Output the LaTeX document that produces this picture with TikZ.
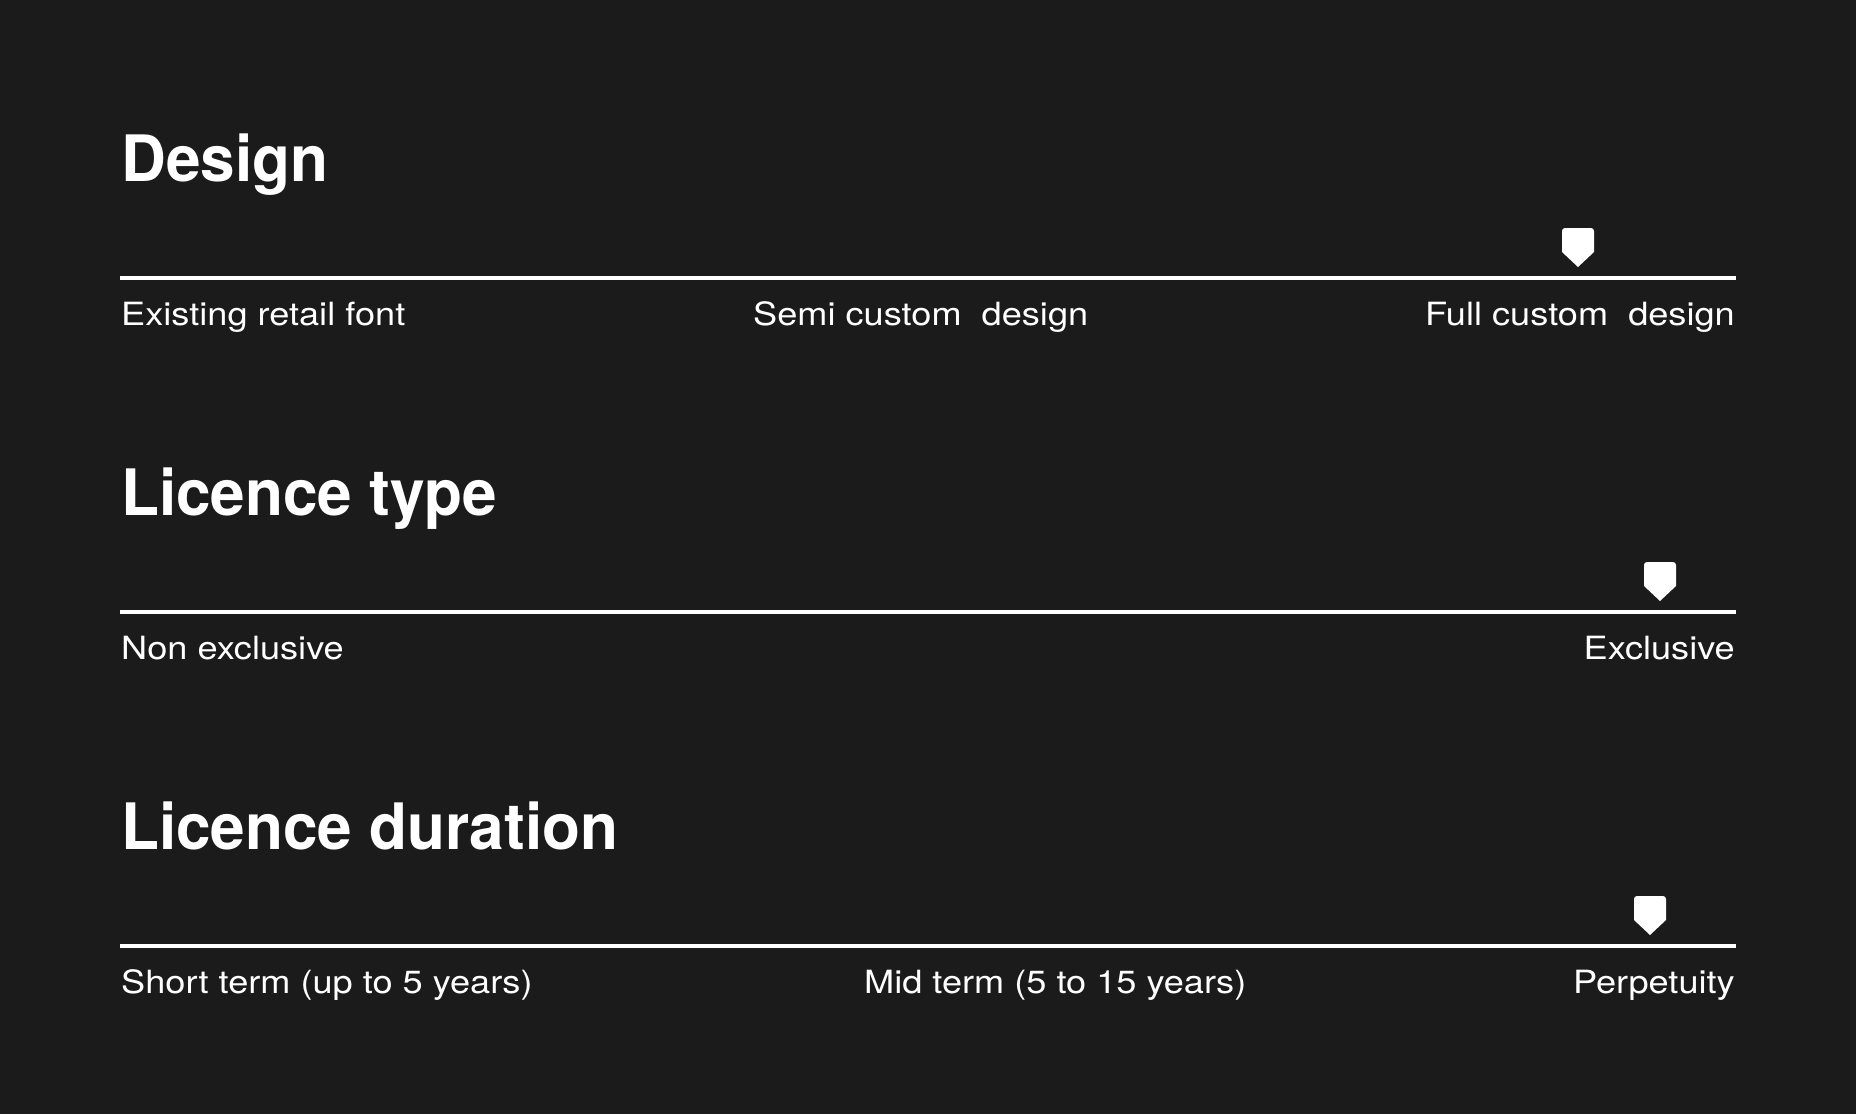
\documentclass[tikz,border=0pt]{standalone}
\usepackage{fontspec}
\setmainfont{TeX Gyre Heros}
\newfontfamily\labfont[FakeStretch=1.13]{TeX Gyre Heros}
\newfontfamily\titlefont[FakeStretch=0.97]{TeX Gyre Heros}
\definecolor{bg}{RGB}{27,27,27}
\tikzset{
  title/.style={anchor=base west, inner sep=0pt, text=white, font=\titlefont\fontsize{64}{70}\selectfont\bfseries},
  lab/.style={inner sep=0pt, text=white, font=\labfont\fontsize{32}{36}\selectfont},
  scale line/.style={draw=white, line width=4pt},
  marker/.style={fill=white}
}
\newcommand{\mymarker}[2]{%
  \fill[marker] (#1,#2-11) -- (#1-16,#2-26) [rounded corners=3pt] -- (#1-16,#2-50) -- (#1+16,#2-50) [sharp corners] -- (#1+16,#2-26) -- cycle;}
\begin{document}
\begin{tikzpicture}[x=1pt,y=-1pt]
\fill[bg] (0,0) rectangle (1856,1114);
\useasboundingbox (0,0) rectangle (1856,1114);
% Design
\node[title] (t1) at (121,181) {Design};
\coordinate (a1) at (120,278); \coordinate (b1) at (1736,278);
\draw[scale line] (a1) -- (b1);
\mymarker{1578}{278}
\node[lab, anchor=base west] (l1a) at (121,325) {Existing retail font};
\node[lab, anchor=base west] (l1b) at (753,325) {Semi custom\ \ design};
\node[lab, anchor=base east] (l1c) at (1735,325) {Full custom\ \ design};
% Licence type
\node[title] (t2) at (121,515) {Licence type};
\coordinate (a2) at (120,612); \coordinate (b2) at (1736,612);
\draw[scale line] (a2) -- (b2);
\mymarker{1660}{612}
\node[lab, anchor=base west] (l2a) at (121,659) {Non exclusive};
\node[lab, anchor=base east] (l2c) at (1735,659) {Exclusive};
% Licence duration
\node[title] (t3) at (121,849) {Licence duration};
\coordinate (a3) at (120,946); \coordinate (b3) at (1736,946);
\draw[scale line] (a3) -- (b3);
\mymarker{1650}{946}
\node[lab, anchor=base west] (l3a) at (121,993) {Short term (up to 5 years)};
\node[lab, anchor=base west] (l3b) at (864,993) {Mid term (5 to 15 years)};
\node[lab, anchor=base east] (l3c) at (1735,993) {Perpetuity};
\end{tikzpicture}
\end{document}
